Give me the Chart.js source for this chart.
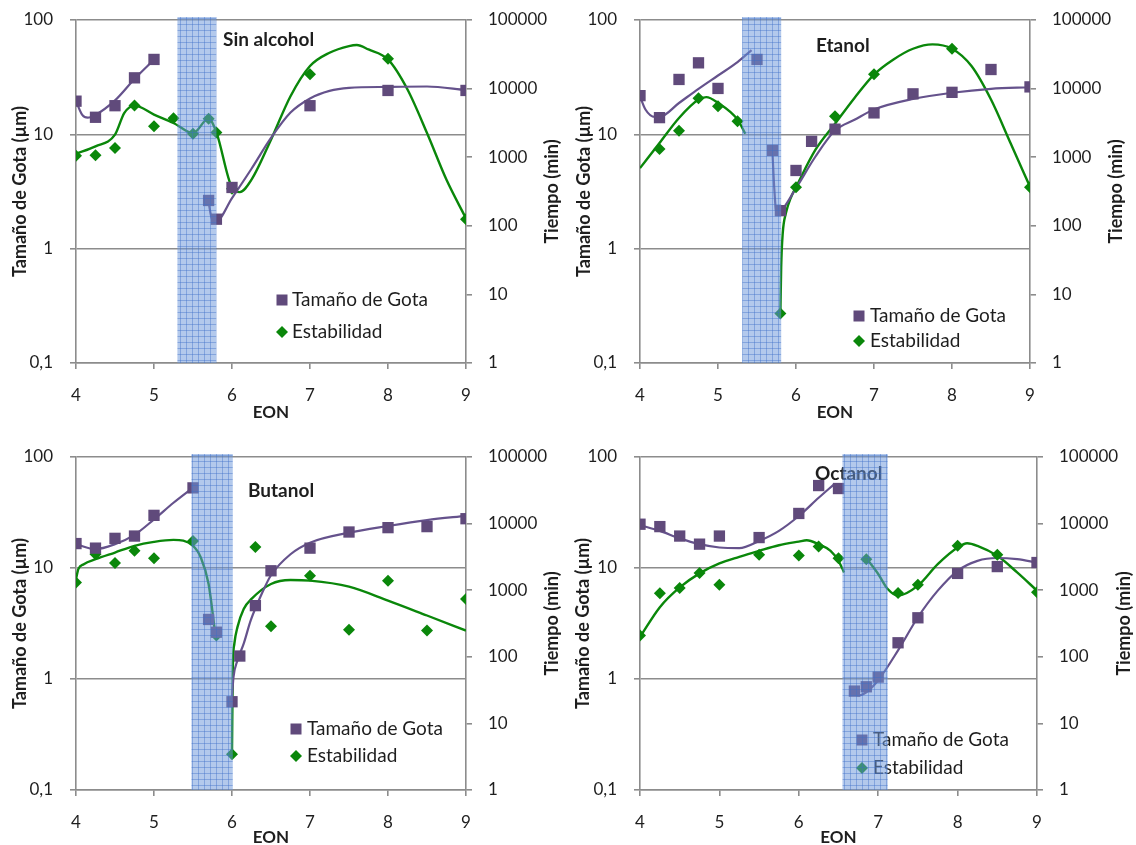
<!DOCTYPE html>
<html>
<head>
<meta charset="utf-8">
<script src="https://cdn.jsdelivr.net/npm/chart.js@4.4.1/dist/chart.umd.min.js"></script>
<style>
  body { margin: 0; background: #fff; width: 1136px; height: 845px; overflow: hidden; position: relative; }
  canvas { position: absolute; }
</style>
</head>
<body>
<canvas id="c1" width="568" height="425" style="left:0;top:0"></canvas>
<canvas id="c2" width="568" height="425" style="left:568px;top:0"></canvas>
<canvas id="c3" width="568" height="420" style="left:0;top:425px"></canvas>
<canvas id="c4" width="568" height="420" style="left:568px;top:425px"></canvas>
<script>
// tick values / labels shared by all four panels
const eonTicks = [4, 5, 6, 7, 8, 9];
const gotaTicks = [0.1, 1, 10, 100];
const gotaTickLabels = ['0,1', '1', '10', '100'];
const tiempoTicks = [1, 10, 100, 1000, 10000, 100000];
const tiempoTickLabels = ['1', '10', '100', '1000', '10000', '100000'];

// --- Sin alcohol ---
const sinGotaEon = [4, 4.25, 4.5, 4.75, 5, 5.7, 5.8, 6, 7, 8, 9];
const sinGota = [19.5, 14.1, 17.8, 31.2, 45.2, 2.64, 1.81, 3.43, 17.8, 24.2, 24.2];
const sinEstabEon = [4, 4.25, 4.5, 4.75, 5, 5.25, 5.5, 5.7, 5.8, 6, 7, 8, 9];
const sinEstab = [1050, 1070, 1360, 5650, 2820, 3690, 2200, 3650, 2300, 346, 16200, 27200, 125];
const sinGotaFitAEon = [4, 4.08, 4.15, 4.25, 4.5, 4.75, 5];
const sinGotaFitA = [19.5, 14.8, 14, 14.8, 19.8, 30.5, 45];
const sinGotaFitBEon = [5.7, 5.74, 5.8, 6, 6.25, 6.5, 6.75, 7, 7.25, 7.5, 8, 8.5, 9];
const sinGotaFitB = [2.55, 1.85, 1.75, 2.77, 5, 9.3, 15.5, 20.6, 24, 25.5, 26, 26.2, 24.4];
const sinEstabFitEon = [4, 4.25, 4.5, 4.62, 4.75, 5, 5.25, 5.5, 5.7, 5.8, 6, 6.1, 6.25, 6.5, 6.75, 7, 7.25, 7.5, 7.6, 7.75, 8, 8.25, 8.5, 8.75, 9];
const sinEstabFit = [1125, 1440, 2130, 4420, 5650, 4180, 3150, 2250, 3650, 2300, 360, 310, 470, 1800, 7740, 21300, 33300, 41700, 43200, 37200, 26600, 9690, 2250, 468, 128];
const sinBand = [5.3, 5.8];

// --- Etanol ---
const etaGotaEon = [4, 4.25, 4.5, 4.75, 5, 5.5, 5.7, 5.8, 6, 6.2, 6.5, 7, 7.5, 8, 8.5, 9];
const etaGota = [21.8, 14.0, 30.2, 42.2, 25.2, 45.2, 7.24, 2.15, 4.83, 8.68, 11.1, 15.4, 22.6, 23.3, 36.9, 26.0];
const etaEstabEon = [4.25, 4.5, 4.75, 5, 5.25, 5.8, 6, 6.5, 7, 8, 9];
const etaEstab = [1315, 2440, 7240, 5530, 3340, 5.26, 366, 3950, 16200, 38100, 366];
const etaGotaFitAEon = [4, 4.07, 4.19, 4.25, 4.5, 4.75, 5, 5.25, 5.43];
const etaGotaFitA = [21.5, 16.5, 14.2, 14.2, 18.8, 25, 32.7, 42.8, 54.6];
const etaGotaFitBEon = [5.7, 5.72, 5.75, 5.8, 6, 6.25, 6.5, 6.75, 7, 7.5, 8, 8.5, 9];
const etaGotaFitB = [6.6, 3.5, 2.04, 2.1, 3.38, 6.4, 10.8, 13.4, 16.5, 20.4, 23.1, 25, 25.8];
const etaEstabFitAEon = [4, 4.25, 4.5, 4.75, 4.85, 5, 5.25, 5.35];
const etaEstabFitA = [693, 1610, 3730, 6920, 7500, 6180, 3530, 2200];
const etaEstabFitBEon = [5.8, 5.81, 5.83, 5.87, 5.94, 6, 6.25, 6.5, 6.75, 7, 7.25, 7.5, 7.75, 8, 8.25, 8.5, 8.75, 9];
const etaEstabFitB = [5.3, 25, 78, 152, 267, 366, 1285, 3080, 7320, 16000, 26600, 38100, 44100, 38100, 21300, 6920, 1610, 370];
const etaBand = [5.31, 5.81];

// --- Butanol ---
const butGotaEon = [4, 4.25, 4.5, 4.75, 5, 5.5, 5.7, 5.8, 6, 6.1, 6.3, 6.5, 7, 7.5, 8, 8.5, 9];
const butGota = [16.6, 15.1, 18.5, 19.4, 29.8, 52.7, 3.44, 2.64, 0.624, 1.61, 4.58, 9.44, 15.1, 21.1, 23.1, 23.6, 27.8];
const butEstabEon = [4, 4.25, 4.5, 4.75, 5, 5.5, 5.8, 6, 6.3, 6.5, 7, 7.5, 8, 8.5, 9];
const butEstab = [1310, 3470, 2550, 3900, 3030, 5500, 209, 3.45, 4470, 288, 1650, 254, 1390, 248, 739];
const butGotaFitAEon = [4, 4.25, 4.5, 4.75, 5, 5.25, 5.5];
const butGotaFitA = [16.4, 14.8, 16.4, 19.9, 27.4, 38.7, 53];
const butGotaFitBEon = [6, 6.02, 6.07, 6.15, 6.24, 6.38, 6.5, 6.75, 7, 7.5, 8, 8.5, 9];
const butGotaFitB = [0.7, 1.05, 1.47, 2.08, 3.37, 5.83, 8.6, 13.3, 16.9, 20.8, 23.9, 27, 29.5];
const butEstabFitAEon = [4, 4.03, 4.1, 4.25, 4.5, 4.75, 5, 5.25, 5.5, 5.6, 5.7, 5.78];
const butEstabFitA = [1470, 2070, 2460, 2920, 3680, 4630, 5310, 5690, 4630, 3100, 1240, 248];
const butEstabFitBEon = [6, 6.01, 6.03, 6.07, 6.15, 6.25, 6.5, 6.75, 7, 7.5, 8, 8.5, 9];
const butEstabFitB = [3.6, 63, 157, 279, 524, 740, 1240, 1420, 1390, 1130, 698, 417, 248];
const butBand = [5.48, 6.01];

// --- Octanol ---
const octGotaEon = [4, 4.25, 4.5, 4.75, 5, 5.5, 6, 6.25, 6.5, 6.7, 6.85, 7, 7.25, 7.5, 8, 8.5, 9];
const octGota = [24.8, 23.6, 19.4, 16.4, 19.4, 18.8, 31.0, 55.3, 52.0, 0.778, 0.851, 1.04, 2.12, 3.56, 8.94, 10.3, 11.2];
const octEstabEon = [4, 4.25, 4.5, 4.75, 5, 5.5, 6, 6.25, 6.5, 6.85, 7.25, 7.5, 8, 8.5, 9];
const octEstab = [209, 898, 1080, 1810, 1210, 3400, 3320, 4520, 3030, 2920, 908, 1210, 4630, 3400, 929];
const octGotaFitAEon = [4, 4.25, 4.5, 4.75, 5, 5.25, 5.5, 5.75, 6, 6.25, 6.45];
const octGotaFitA = [24.3, 21.6, 18.5, 16.4, 15.3, 15.1, 17.5, 21.6, 29.4, 42.9, 57.3];
const octGotaFitBEon = [6.68, 6.75, 6.85, 7, 7.25, 7.5, 7.75, 8, 8.25, 8.5, 8.75, 9];
const octGotaFitB = [0.74, 0.71, 0.76, 0.975, 1.81, 3.6, 6.25, 9.44, 11.6, 12.3, 12, 11.2];
const octEstabFitAEon = [4, 4.25, 4.5, 4.75, 5, 5.25, 5.5, 5.75, 6, 6.1, 6.25, 6.4, 6.5, 6.57];
const octEstabFitA = [198, 555, 1100, 1790, 2520, 3170, 3900, 4730, 5370, 5620, 4900, 3900, 2760, 1850];
const octEstabFitBEon = [6.85, 7, 7.12, 7.25, 7.5, 7.75, 8, 8.12, 8.25, 8.5, 8.75, 9];
const octEstabFitB = [3030, 1750, 1040, 828, 1170, 2460, 4370, 5070, 4630, 3280, 1850, 985];
const octBand = [6.55, 7.12];

const PURPLE = '#604a7b';
const PURPLE_LINE = '#65528c';
const GREEN = '#0a870a';
const GRID = '#8c8c8c';
const TEXT = '#1e1e1e';
const FONT = 'Lato, "Open Sans", sans-serif';

// band pattern: light blue with a fine grid
function bandPattern(ctx) {
  const c = document.createElement('canvas');
  c.width = 6; c.height = 6;
  const g = c.getContext('2d');
  g.fillStyle = 'rgba(110,152,218,0.52)';
  g.fillRect(0, 0, 6, 6);
  g.fillStyle = 'rgba(60,110,200,0.4)';
  g.fillRect(0, 0, 6, 1);
  g.fillRect(0, 0, 1, 6);
  return ctx.createPattern(c, 'repeat');
}

const decor = {
  id: 'decor',
  afterDatasetsDraw(chart, args, o) {
    const ctx = chart.ctx, a = chart.chartArea, x = chart.scales.x;
    ctx.save();
    ctx.fillStyle = TEXT;
    ctx.textBaseline = 'middle';
    ctx.textAlign = 'left';
    ctx.font = 'bold 19px ' + FONT;
    ctx.fillText(o.title, o.titleX, o.titleY);

    // legend
    ctx.font = '19px ' + FONT;
    ctx.fillStyle = PURPLE;
    ctx.fillRect(o.legX - 5.5, o.legY[0] - 5.5, 11, 11);
    ctx.fillStyle = GREEN;
    ctx.beginPath();
    ctx.moveTo(o.legX - 6, o.legY[1]);
    ctx.lineTo(o.legX, o.legY[1] - 6);
    ctx.lineTo(o.legX + 6, o.legY[1]);
    ctx.lineTo(o.legX, o.legY[1] + 6);
    ctx.closePath();
    ctx.fill();
    ctx.fillStyle = TEXT;
    ctx.fillText('Tamaño de Gota', o.legTextX, o.legY[0]);
    ctx.fillText('Estabilidad', o.legTextX, o.legY[1]);

    // shaded band on top
    const x1 = x.getPixelForValue(o.band[0]), x2 = x.getPixelForValue(o.band[1]);
    ctx.fillStyle = bandPattern(ctx);
    ctx.fillRect(x1, a.top - 3, x2 - x1, a.bottom - a.top + 3);
    ctx.restore();
  },
  afterDraw(chart, args, o) {
    const ctx = chart.ctx, a = chart.chartArea;
    const midY = (a.top + a.bottom) / 2;
    ctx.save();
    ctx.fillStyle = TEXT;
    ctx.textAlign = 'center';
    ctx.textBaseline = 'middle';
    ctx.font = 'bold 18px ' + FONT;
    [o.leftTitleX, o.rightTitleX].forEach((tx, i) => {
      ctx.save();
      ctx.translate(tx, midY);
      ctx.rotate(-Math.PI / 2);
      ctx.fillText(i === 0 ? 'Tamaño de Gota (µm)' : 'Tiempo (min)', 0, 0);
      ctx.restore();
    });
    ctx.font = 'bold 17px ' + FONT;
    ctx.fillText('EON', (a.left + a.right) / 2, o.eonY);
    ctx.restore();
  }
};

function pts(xs, ys) {
  return xs.map((v, i) => ({ x: v, y: ys[i] }));
}

function makePanel(id, p) {
  const canvas = document.getElementById(id);
  const W = canvas.width, H = canvas.height;
  const datasets = [
    { data: pts(p.gotaX, p.gota), yAxisID: 'yL', showLine: false, pointStyle: 'rect', pointRadius: 8,
      backgroundColor: PURPLE, pointBorderWidth: 0 },
    { data: pts(p.estabX, p.estab), yAxisID: 'yR', showLine: false, pointStyle: 'rectRot', pointRadius: 6,
      backgroundColor: GREEN, pointBorderWidth: 0 }
  ];
  p.gotaFits.forEach(f => datasets.push({ data: pts(f[0], f[1]), yAxisID: 'yL', showLine: true, pointRadius: 0,
    borderColor: PURPLE_LINE, borderWidth: 2.2, cubicInterpolationMode: 'monotone' }));
  p.estabFits.forEach(f => datasets.push({ data: pts(f[0], f[1]), yAxisID: 'yR', showLine: true, pointRadius: 0,
    borderColor: GREEN, borderWidth: 2.4, cubicInterpolationMode: 'monotone' }));

  const tickFont = { family: FONT, size: 17 };
  const logAxis = (values, labels, pos, width, onArea) => ({
    type: 'logarithmic', position: pos, min: values[0], max: values[values.length - 1],
    afterBuildTicks: s => { s.ticks = values.map(v => ({ value: v })); },
    afterFit: s => { s.width = width; s.paddingTop = 0; s.paddingBottom = 0; },
    ticks: { font: tickFont, color: TEXT, padding: pos === 'left' ? 17 : 16,
      callback: v => labels[values.indexOf(v)] },
    grid: { drawOnChartArea: onArea, color: GRID, lineWidth: 1.6, tickLength: 6 },
    border: { color: GRID, width: 1.6 }
  });

  new Chart(canvas, {
    type: 'scatter',
    data: { datasets },
    options: {
      responsive: false,
      animation: false,
      events: [],
      layout: { padding: { top: p.T, left: 0, right: 0, bottom: 0 } },
      plugins: { legend: { display: false }, tooltip: { enabled: false }, decor: p.decor },
      scales: {
        x: {
          type: 'linear', min: 4, max: 9,
          afterBuildTicks: s => { s.ticks = eonTicks.map(v => ({ value: v })); },
          afterFit: s => { s.height = H - p.B; s.paddingLeft = 0; s.paddingRight = 0; },
          ticks: { font: tickFont, color: TEXT, padding: 16 },
          grid: { drawOnChartArea: false, color: GRID, lineWidth: 1.6, tickLength: 6 },
          border: { color: GRID, width: 1.6 }
        },
        yL: logAxis(gotaTicks, gotaTickLabels, 'left', p.L, true),
        yR: logAxis(tiempoTicks, tiempoTickLabels, 'right', W - p.R, false)
      }
    },
    plugins: [decor]
  });
}

makePanel('c1', {
  L: 76, R: 466, T: 20, B: 363,
  gotaX: sinGotaEon, gota: sinGota, estabX: sinEstabEon, estab: sinEstab,
  gotaFits: [[sinGotaFitAEon, sinGotaFitA], [sinGotaFitBEon, sinGotaFitB]],
  estabFits: [[sinEstabFitEon, sinEstabFit]],
  decor: { title: 'Sin alcohol', titleX: 223, titleY: 40, legX: 282, legTextX: 292, legY: [300, 332],
    leftTitleX: 20, rightTitleX: 552, eonY: 413, band: sinBand }
});
makePanel('c2', {
  L: 72, R: 462, T: 20, B: 363,
  gotaX: etaGotaEon, gota: etaGota, estabX: etaEstabEon, estab: etaEstab,
  gotaFits: [[etaGotaFitAEon, etaGotaFitA], [etaGotaFitBEon, etaGotaFitB]],
  estabFits: [[etaEstabFitAEon, etaEstabFitA], [etaEstabFitBEon, etaEstabFitB]],
  decor: { title: 'Etanol', titleX: 248, titleY: 46, legX: 291, legTextX: 302, legY: [316, 341],
    leftTitleX: 16, rightTitleX: 548, eonY: 413, band: etaBand }
});
makePanel('c3', {
  L: 76, R: 466, T: 32, B: 365,
  gotaX: butGotaEon, gota: butGota, estabX: butEstabEon, estab: butEstab,
  gotaFits: [[butGotaFitAEon, butGotaFitA], [butGotaFitBEon, butGotaFitB]],
  estabFits: [[butEstabFitAEon, butEstabFitA], [butEstabFitBEon, butEstabFitB]],
  decor: { title: 'Butanol', titleX: 248, titleY: 66, legX: 296, legTextX: 307, legY: [304, 331],
    leftTitleX: 20, rightTitleX: 552, eonY: 413, band: butBand }
});
makePanel('c4', {
  L: 72, R: 469, T: 32, B: 365,
  gotaX: octGotaEon, gota: octGota, estabX: octEstabEon, estab: octEstab,
  gotaFits: [[octGotaFitAEon, octGotaFitA], [octGotaFitBEon, octGotaFitB]],
  estabFits: [[octEstabFitAEon, octEstabFitA], [octEstabFitBEon, octEstabFitB]],
  decor: { title: 'Octanol', titleX: 247, titleY: 49, legX: 294, legTextX: 305, legY: [315, 343],
    leftTitleX: 15, rightTitleX: 556, eonY: 413, band: octBand }
});
</script>
</body>
</html>
